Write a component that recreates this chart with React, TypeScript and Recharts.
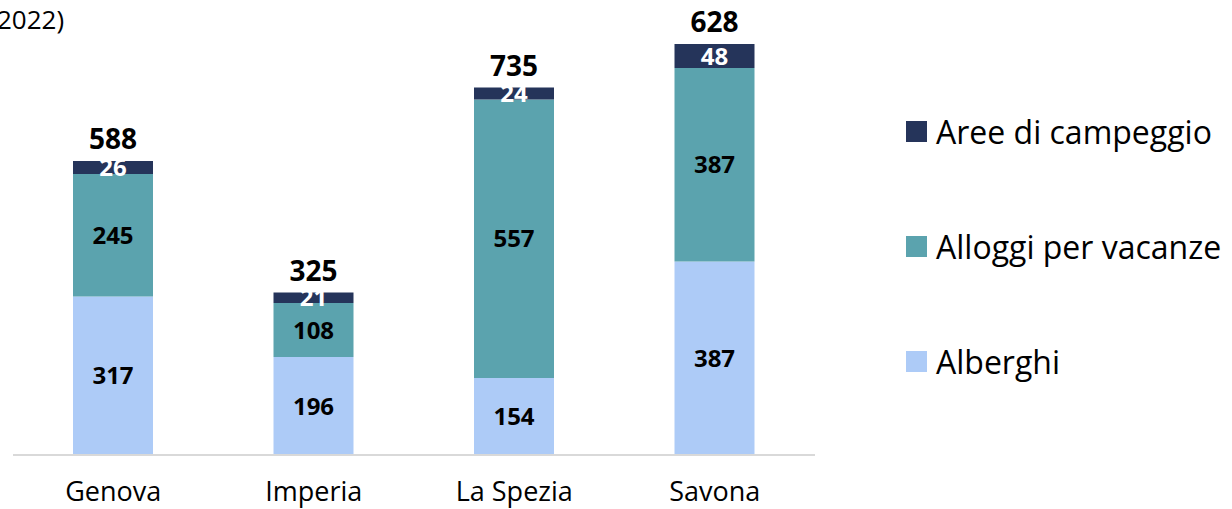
import { BarChart, Bar, XAxis, YAxis, LabelList } from 'recharts'

const provinces = ['Genova', 'Imperia', 'La Spezia', 'Savona']
const alberghi = [317, 196, 154, 387]
const alloggi = [245, 108, 557, 387]
const campeggio = [26, 21, 24, 48]
const totals = [588, 325, 735, 628]

const seriesNames = ['Alberghi', 'Alloggi per vacanze', 'Aree di campeggio']
const colors = ['#adcbf7', '#5ba3ae', '#25345a']

const data = provinces.map((p, i) => ({
  name: p,
  alberghi: alberghi[i],
  alloggi: alloggi[i],
  campeggio: campeggio[i],
  total: totals[i],
}))

const FONT = '"Open Sans", sans-serif'

function LegendBox() {
  const items = [2, 1, 0]
  return (
    <div style={{ position: 'absolute', left: 906, top: 74, fontFamily: FONT }}>
      {items.map((k) => (
        <div
          key={k}
          style={{ display: 'flex', alignItems: 'center', height: 115, fontSize: 32, color: '#000', whiteSpace: 'nowrap' }}
        >
          <span style={{ width: 21, height: 21, background: colors[k], marginRight: 9, display: 'inline-block' }} />
          {seriesNames[k]}
        </div>
      ))}
    </div>
  )
}

export default function App() {
  return (
    <div style={{ position: 'absolute', left: 0, top: 0, width: 1232, height: 509, background: '#fff', overflow: 'hidden' }}>
      <div style={{ position: 'absolute', left: -3, top: 2, fontFamily: FONT, fontSize: 26, color: '#000', lineHeight: '34px' }}>
        2022)
      </div>
      <BarChart
        width={1232}
        height={509}
        data={data}
        margin={{ top: 2, right: 417, left: 13, bottom: 0 }}
        barSize={80}
      >
        <XAxis
          dataKey="name"
          tickLine={false}
          axisLine={{ stroke: '#d9d9d9', strokeWidth: 2 }}
          height={54}
          tick={{ fontSize: 27, fill: '#000', fontFamily: FONT }}
          tickMargin={21}
        />
        <YAxis hide domain={[0, 906]} />
        <Bar dataKey="alberghi" stackId="a" fill={colors[0]} isAnimationActive={false}>
          <LabelList dataKey="alberghi" position="center" fill="#000" fontSize={24} fontWeight="bold" fontFamily={FONT} />
        </Bar>
        <Bar dataKey="alloggi" stackId="a" fill={colors[1]} isAnimationActive={false}>
          <LabelList dataKey="alloggi" position="center" fill="#000" fontSize={24} fontWeight="bold" fontFamily={FONT} />
        </Bar>
        <Bar dataKey="campeggio" stackId="a" fill={colors[2]} isAnimationActive={false}>
          <LabelList dataKey="campeggio" position="center" fill="#fff" fontSize={24} fontWeight="bold" fontFamily={FONT} />
          <LabelList dataKey="total" position="top" offset={12} fill="#000" fontSize={28} fontWeight="bold" fontFamily={FONT} />
        </Bar>
      </BarChart>
      <LegendBox />
    </div>
  )
}
